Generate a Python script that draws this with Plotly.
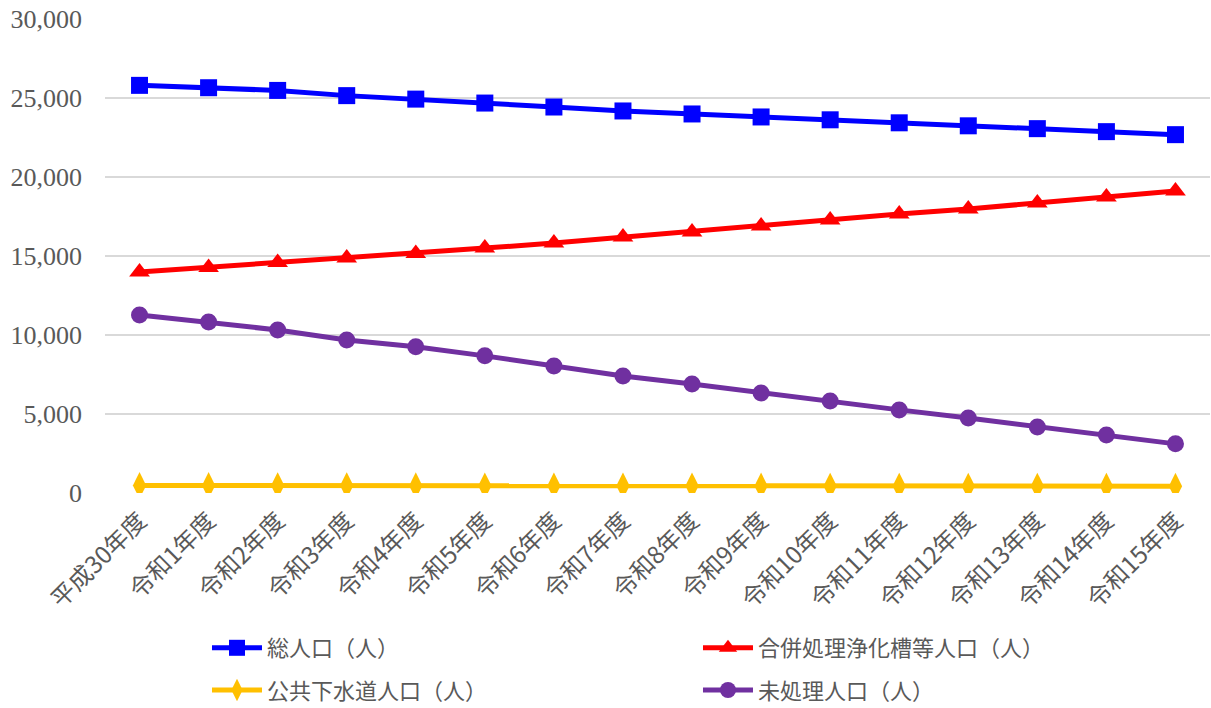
import plotly.graph_objects as go

categories = ["平成30年度", "令和1年度", "令和2年度", "令和3年度", "令和4年度", "令和5年度",
              "令和6年度", "令和7年度", "令和8年度", "令和9年度", "令和10年度", "令和11年度",
              "令和12年度", "令和13年度", "令和14年度", "令和15年度"]

total_pop = [25800, 25650, 25480, 25150, 24930, 24680, 24430, 24180, 23990, 23800,
             23620, 23430, 23240, 23060, 22870, 22680]
joint_pop = [13990, 14280, 14590, 14870, 15160, 15500, 15820, 16200, 16520, 16900,
             17280, 17660, 17980, 18360, 18740, 19110]
sewer_pop = [480, 480, 475, 470, 465, 460, 458, 455, 452, 450, 447, 445, 442, 440, 437, 435]
untreated_pop = [11270, 10830, 10320, 9690, 9250, 8680, 8040, 7410, 6900, 6330,
                 5830, 5260, 4750, 4180, 3670, 3110]

y_ticks = [0, 5000, 10000, 15000, 20000, 25000, 30000]
y_tick_labels = ["0", "5,000", "10,000", "15,000", "20,000", "25,000", "30,000"]

fig = go.Figure()
fig.add_trace(go.Scatter(x=categories, y=total_pop, name="総人口（人）", mode="lines+markers",
                         line=dict(color="#0000FF", width=5), legend="legend",
                         marker=dict(symbol="square", size=17, color="#0000FF")))
fig.add_trace(go.Scatter(x=categories, y=joint_pop, name="合併処理浄化槽等人口（人）", mode="lines+markers",
                         line=dict(color="#FF0000", width=5), legend="legend",
                         marker=dict(symbol="triangle-up", size=18, color="#FF0000")))
fig.add_trace(go.Scatter(x=categories, y=sewer_pop, name="公共下水道人口（人）", mode="lines+markers",
                         line=dict(color="#FFC000", width=5), legend="legend2",
                         marker=dict(symbol="diamond-tall", size=19, color="#FFC000")))
fig.add_trace(go.Scatter(x=categories, y=untreated_pop, name="未処理人口（人）", mode="lines+markers",
                         line=dict(color="#7030A0", width=5), legend="legend2",
                         marker=dict(symbol="circle", size=17, color="#7030A0")))

legend_common = dict(orientation="h", xanchor="left", yanchor="middle",
                     font=dict(size=22, color="#595959", family="Noto Sans CJK JP"),
                     entrywidth=426, entrywidthmode="pixels", itemwidth=50,
                     bgcolor="rgba(0,0,0,0)")

fig.update_layout(
    width=1211, height=708,
    margin=dict(l=105, r=1, t=19, b=215, autoexpand=False),
    plot_bgcolor="white", paper_bgcolor="white",
    font=dict(family="Noto Sans CJK JP", color="#595959"),
    showlegend=True,
    legend=dict(x=0.0923, y=-0.327, **legend_common),
    legend2=dict(x=0.0923, y=-0.416, **legend_common),
)
fig.update_xaxes(type="category", range=[-0.5, 15.5], tickangle=-45, showgrid=False,
                 showline=False, ticks="", automargin=False, ticklabelstandoff=8,
                 tickfont=dict(size=24, family="Noto Sans CJK JP", color="#595959"))
fig.update_yaxes(range=[0, 30000], tickvals=y_ticks, ticktext=y_tick_labels, showgrid=True,
                 gridcolor="#D9D9D9", gridwidth=2, zeroline=False, showline=False, ticks="",
                 ticklabelstandoff=22, automargin=False, ticklabeloverflow="allow",
                 tickfont=dict(size=26, family="Liberation Serif", color="#595959"))

fig.write_html("out.html",
               config={"displayModeBar": False},
               post_script="document.body.style.margin='0';document.body.style.overflow='hidden';")
